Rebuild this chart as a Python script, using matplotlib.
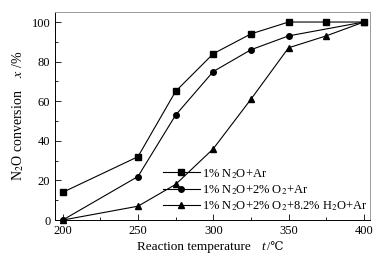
import matplotlib.pyplot as plt

plt.rcParams['font.family'] = ['Liberation Serif', 'DejaVu Serif']
plt.rcParams['mathtext.fontset'] = 'stix'

temps = [200, 250, 275, 300, 325, 350, 375, 400]
conv_n2o = [14, 32, 65, 84, 94, 100, 100, 100]
temps_o2 = [200, 250, 275, 300, 325, 350, 400]
conv_o2 = [0, 22, 53, 75, 86, 93, 100]
conv_h2o = [0, 7, 18, 36, 61, 87, 93, 100]

labels = ["1% N$_2$O+Ar",
          "1% N$_2$O+2% O$_2$+Ar",
          "1% N$_2$O+2% O$_2$+8.2% H$_2$O+Ar"]

fig = plt.figure(figsize=(3.91, 2.58), dpi=100)
ax = fig.add_axes([0.141, 0.147, 0.805, 0.806])

ax.plot(temps, conv_n2o, "-s", color="black", lw=0.8, ms=4, clip_on=False, label=labels[0])
ax.plot(temps_o2, conv_o2, "-o", color="black", lw=0.8, ms=4, clip_on=False, label=labels[1])
ax.plot(temps, conv_h2o, "-^", color="black", lw=0.8, ms=4, clip_on=False, label=labels[2])

ax.set_xlim(195, 404)
ax.set_ylim(0, 105)
ax.set_xticks([200, 250, 300, 350, 400])
ax.set_xticks([225, 275, 325, 375], minor=True)
ax.set_yticks([0, 20, 40, 60, 80, 100])
ax.set_yticks([10, 30, 50, 70, 90], minor=True)
ax.tick_params(direction="in", labelsize=9, length=4, width=0.6)
ax.tick_params(which="minor", direction="in", length=2.5, width=0.6)
for s in ax.spines.values():
    s.set_linewidth(0.7)
for s in ["top", "right"]:
    ax.spines[s].set_color("#999999")

# x label in pieces so the degree sign can fall back to DejaVu
ty = 1 - 247 / 258
fig.text(194 / 391, ty, "Reaction temperature", fontsize=9.5, ha="center", va="center")
fig.text(261 / 391, ty, "t", fontsize=9.5, style="italic", ha="left", va="center")
fig.text(267 / 391, ty, "/\u2103", fontsize=8.5, ha="left", va="center")

ax.set_ylabel("N$_2$O conversion    $x$ /%", fontsize=10, labelpad=4)

ax.legend(loc="lower right", bbox_to_anchor=(1.005, 0.015), frameon=False, fontsize=9,
          handlelength=2.9, handletextpad=0.2, labelspacing=0.2,
          borderaxespad=0.0, borderpad=0.3)

fig.savefig("out.png", dpi=100)
